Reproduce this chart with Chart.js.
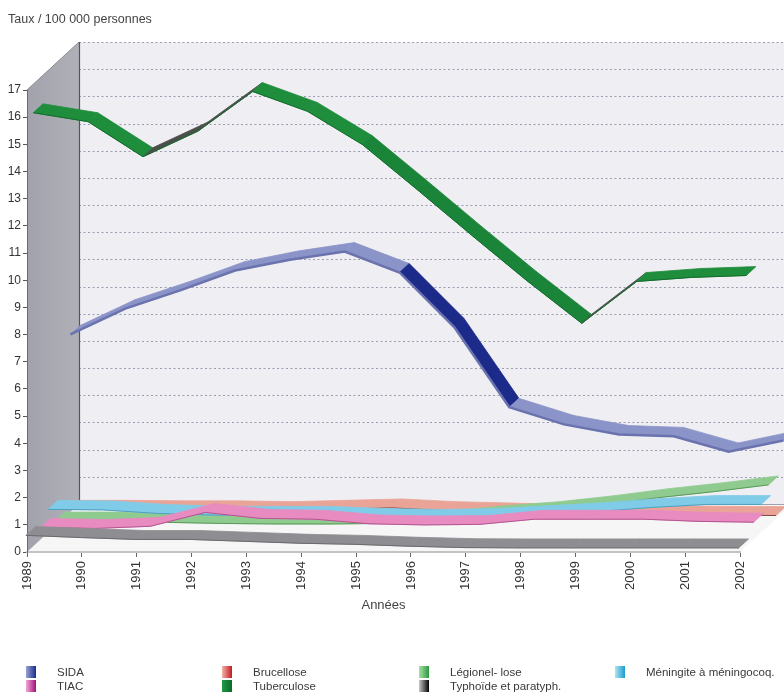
<!DOCTYPE html>
<html><head><meta charset="utf-8">
<script src="https://cdn.jsdelivr.net/npm/chart.js@4.4.1/dist/chart.umd.min.js"></script>
<style>
body{margin:0;background:#fff;}
#wrap{position:relative;width:784px;height:693px;}
#legend{position:absolute;left:0;top:0;width:784px;height:693px;pointer-events:none;font:11.5px "Liberation Sans",Arial,sans-serif;color:#3a3a3a;}
.li{position:absolute;display:flex;align-items:center;white-space:nowrap;height:14px;}
.sw{width:10px;height:12px;margin-right:21px;}
</style></head><body>
<div id="wrap"><canvas id="c" width="784" height="693"></canvas><div id="legend"></div></div>
<script>
// ---- data (taux pour 100 000 personnes) ----
const years = ['1989','1990','1991','1992','1993','1994','1995','1996','1997','1998','1999','2000','2001','2002'];
const typhoide    = [0.65, 0.57, 0.50, 0.50, 0.43, 0.36, 0.32, 0.25, 0.20, 0.19, 0.19, 0.19, 0.19, 0.19];
const tuberculose = [15.95, 15.62, 14.33, 15.27, 16.73, 16.0, 14.78, 13.12, 11.43, 9.77, 8.2, 9.74, 9.89, 9.96];
const tiac        = [0.44, 0.40, 0.48, 0.99, 0.77, 0.74, 0.57, 0.53, 0.55, 0.74, 0.74, 0.74, 0.66, 0.63];
const meningite   = [0.85, 0.83, 0.70, 0.64, 0.63, 0.63, 0.55, 0.52, 0.55, 0.66, 0.77, 0.92, 1.03, 1.03];
const legionellose= [0.17, 0.17, 0.12, 0.08, 0.06, 0.06, 0.08, 0.20, 0.40, 0.55, 0.77, 1.03, 1.25, 1.50];
const brucellose  = [0.35, 0.35, 0.33, 0.33, 0.30, 0.35, 0.40, 0.30, 0.25, 0.20, 0.18, 0.15, 0.13, 0.12];
const sida        = [6.53, 7.48, 8.15, 8.88, 9.28, 9.58, 8.81, 6.79, 3.85, 3.22, 2.85, 2.78, 2.21, 2.63];
const yTicks = [0,1,2,3,4,5,6,7,8,9,10,11,12,13,14,15,16,17];

// series from front (depth 0) to back
const seriesNames  = ['Typhoïde et paratyph.', 'Tuberculose', 'TIAC', 'Méningite à méningocoq.', 'Légionel- lose', 'Brucellose', 'SIDA'];
const seriesValues = [typhoide, tuberculose, tiac, meningite, legionellose, brucellose, sida];
const legendOrder  = ['SIDA', 'Brucellose', 'Légionel- lose', 'Méningite à méningocoq.', 'TIAC', 'Tuberculose', 'Typhoïde et paratyph.'];

// ---- styles ----
const ribbonStyles = [
  {light:'#8e8e92', dark:'#7a7a7e', asc:'#8e8e92', edge:'#6a6a6e', edgeW:1, sw:['#c8c8c8','#000']},
  {light:'#1f8e3c', dark:'#1a8438', asc:'#4a4f4a', edge:'#136b2b', edgeW:1, sw:['#1f9a45','#0b6a2a']},
  {light:'#e78bc0', dark:'#d86aa8', asc:'#e78bc0', edge:'#b25590', edgeW:1, sw:['#f4a6d6','#a0127a']},
  {light:'#80cce8', dark:'#5cb6da', asc:'#80cce8', edge:'#4f9fc0', edgeW:1, sw:['#aee3f5','#1a9ccc']},
  {light:'#8fcb8f', dark:'#6db56d', asc:'#8fcb8f', edge:'#5a9a5a', edgeW:1, sw:['#a8e0a8','#2a9a40']},
  {light:'#eaa497', dark:'#d88070', asc:'#eaa497', edge:'#7a4a40', edgeW:1, sw:['#f6b2aa','#c01c1c']},
  {light:'#8b94c8', dark:'#1c2a8a', asc:'#8b94c8', edge:'#6a73ad', edgeW:2.5, sw:['#9aa3d6','#1c2a8a']}
];
const DX = 52, DY = 48, SLOTS = seriesValues.length;
const RWX = DX / SLOTS * 1.3, RWY = DY / SLOTS * 1.3;

Chart.defaults.font.family = '"Liberation Sans", Arial, sans-serif';

const depth3d = {
  id: 'depth3d',
  beforeDraw(chart) {
    const {ctx, chartArea: a} = chart;
    const y = chart.scales.y;
    const top = y.getPixelForValue(yTicks[yTicks.length - 1]);
    const bot = y.getPixelForValue(0);
    ctx.save();
    ctx.fillStyle = '#efeef3';
    ctx.fillRect(a.left + DX, top - DY, chart.width, bot - top);
    ctx.beginPath();
    ctx.moveTo(a.left, bot); ctx.lineTo(a.right, bot);
    ctx.lineTo(a.right + DX, bot - DY); ctx.lineTo(a.left + DX, bot - DY); ctx.closePath();
    ctx.fillStyle = '#f6f6f7'; ctx.fill();
    ctx.setLineDash([2, 2.5]);
    ctx.lineWidth = 1;
    yTicks.forEach(v => {
      const py = Math.round(y.getPixelForValue(v) - DY) + 0.5;
      ctx.strokeStyle = v === 0 ? '#a0a0a8' : '#9c9cb0';
      if (v === 0) ctx.setLineDash([]);
      ctx.beginPath(); ctx.moveTo(a.left + DX, py); ctx.lineTo(chart.width, py); ctx.stroke();
      ctx.setLineDash([2, 2.5]);
    });
    ctx.setLineDash([]);
    const g = ctx.createLinearGradient(a.left, 0, a.left + DX, 0);
    g.addColorStop(0, '#a2a2ac'); g.addColorStop(1, '#b0b0b8');
    ctx.beginPath();
    ctx.moveTo(a.left, top); ctx.lineTo(a.left + DX, top - DY);
    ctx.lineTo(a.left + DX, bot - DY); ctx.lineTo(a.left, bot); ctx.closePath();
    ctx.fillStyle = g; ctx.fill();
    ctx.strokeStyle = '#8a8a94'; ctx.lineWidth = 1;
    ctx.beginPath(); ctx.moveTo(a.left, top); ctx.lineTo(a.left + DX, top - DY); ctx.stroke();
    ctx.strokeStyle = '#555'; ctx.lineWidth = 1.2;
    ctx.beginPath(); ctx.moveTo(a.left + DX + 0.5, top - DY); ctx.lineTo(a.left + DX + 0.5, bot - DY); ctx.stroke();
    ctx.restore();
  },
  beforeDatasetDraw(chart, args) {
    const ctx = chart.ctx;
    const i = args.index;
    const st = ribbonStyles[i];
    const f = (i + 0.5) / SLOTS;
    ctx.save();
    ctx.translate(f * DX - RWX / 2, -(f * DY - RWY / 2));
    const pts = args.meta.data;
    for (let k = 0; k < pts.length - 1; k++) {
      const p0 = pts[k], p1 = pts[k + 1];
      const slope = (p1.y - p0.y) / (p1.x - p0.x);
      let col = st.light;
      if (slope > 0.7) col = st.dark; else if (slope < -0.4) col = st.asc;
      ctx.beginPath();
      ctx.moveTo(p0.x, p0.y); ctx.lineTo(p1.x, p1.y);
      ctx.lineTo(p1.x + RWX, p1.y - RWY); ctx.lineTo(p0.x + RWX, p0.y - RWY);
      ctx.closePath();
      ctx.fillStyle = col; ctx.fill();
      ctx.strokeStyle = col; ctx.lineWidth = 0.8; ctx.stroke();
    }
  },
  afterDatasetDraw(chart) { chart.ctx.restore(); }
};

const datasets = seriesValues.map((vals, i) => ({
  label: seriesNames[i],
  data: vals,
  borderColor: ribbonStyles[i].edge,
  borderWidth: ribbonStyles[i].edgeW,
  pointRadius: 0,
  tension: 0,
  fill: false,
  clip: false
}));

new Chart(document.getElementById('c'), {
  type: 'line',
  data: { labels: years, datasets },
  options: {
    responsive: false,
    animation: false,
    events: [],
    layout: { padding: { left: 8, right: 44, top: 0, bottom: 79 } },
    plugins: {
      legend: { display: false },
      tooltip: { enabled: false },
      title: {
        display: true, text: 'Taux / 100 000 personnes', align: 'start',
        color: '#444', font: { size: 12.5, weight: 'normal' },
        padding: { top: 12, bottom: 63 }
      }
    },
    scales: {
      x: {
        type: 'category', offset: false,
        afterFit: s => { s.height = 62; },
        grid: { drawOnChartArea: false, drawTicks: true, tickLength: 5, color: '#666' },
        border: { color: '#c4c4c4', width: 2 },
        ticks: { autoSkip: false, minRotation: 90, maxRotation: 90, color: '#333', font: { size: 13 }, padding: 4 },
        title: { display: true, text: 'Années', color: '#444', font: { size: 13 }, padding: { top: 0, bottom: 1 } }
      },
      y: {
        min: 0, max: 17,
        afterFit: s => { s.width = 19; },
        grid: { drawOnChartArea: false, drawTicks: true, tickLength: 4, color: '#555' },
        border: { color: '#6a6a70', width: 1 },
        ticks: { stepSize: 0.5, color: '#333', font: { size: 12 }, padding: 2,
          callback: v => (Number.isInteger(v) ? String(v) : '') }
      }
    }
  },
  plugins: [depth3d]
});

const legendEl = document.getElementById('legend');
const colX = [26, 222, 419, 615], rowY = [665, 679];
legendOrder.forEach((name, k) => {
  const idx = seriesNames.indexOf(name);
  const st = ribbonStyles[idx];
  const d = document.createElement('div');
  d.className = 'li';
  d.style.left = colX[k % 4] + 'px';
  d.style.top = rowY[Math.floor(k / 4)] + 'px';
  const sw = document.createElement('span');
  sw.className = 'sw';
  sw.style.background = 'linear-gradient(to right,' + st.sw[0] + ',' + st.sw[1] + ')';
  const t = document.createElement('span');
  t.textContent = name;
  d.appendChild(sw); d.appendChild(t);
  legendEl.appendChild(d);
});
</script>
</body></html>
